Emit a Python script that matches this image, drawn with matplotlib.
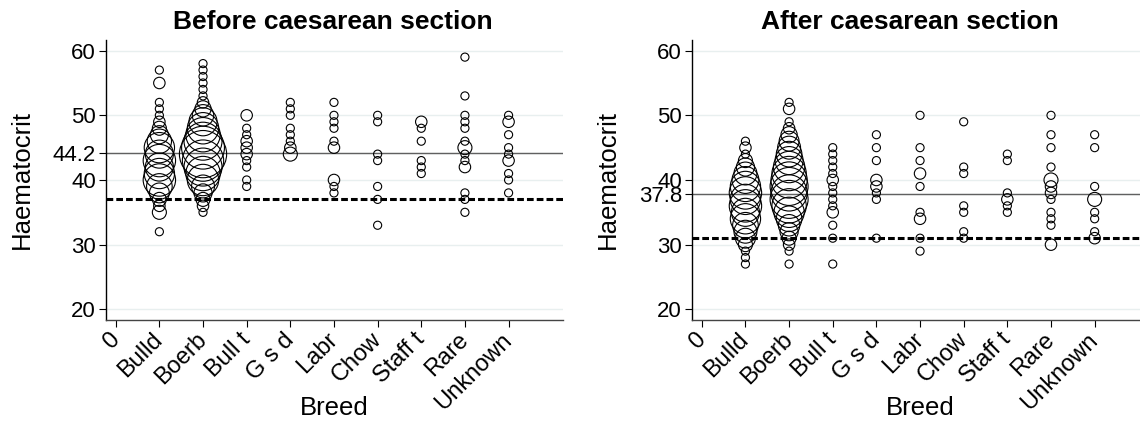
import numpy as np
import matplotlib
matplotlib.use("Agg")
import matplotlib.pyplot as plt

plt.rcParams['font.family'] = ['Liberation Sans', 'DejaVu Sans']

breeds = ["0", "Bulld", "Boerb", "Bull t", "G s d", "Labr", "Chow", "Staff t", "Rare", "Unknown"]

# (haematocrit, number of dogs) per breed, before caesarean section
b_bulld = [(57,1),(55,2),(52,1),(51,1),(50,1),(49,2),(48,3),(47,5),(46,9),(45,14),(44,12),
           (43,16),(42,12),(41,14),(40,16),(39,10),(38,6),(37,3),(36,2),(35,3),(32,1)]
b_boerb = [(58,1),(57,1),(56,1),(55,1),(54,1),(53,1),(52,2),(51,4),(50,7),(49,12),(48,15),(47,18),
           (46,22),(45,28),(44,34),(43,26),(42,22),(41,18),(40,15),(39,8),(38,5),(37,3),(36,2),(35,1)]
b_bullt = [(50,2),(48,1),(47,1),(46,2),(45,2),(44,2),(43,1),(42,1),(40,1),(39,1)]
b_gsd = [(52,1),(51,1),(50,1),(48,1),(47,1),(46,1),(45,2),(44,3)]
b_labr = [(52,1),(50,1),(49,1),(48,1),(46,1),(45,2),(40,2),(39,1),(38,1)]
b_chow = [(50,1),(49,1),(44,1),(43,1),(39,1),(37,1),(33,1)]
b_stafft = [(49,2),(48,1),(46,1),(43,1),(42,1),(41,1)]
b_rare = [(59,1),(53,1),(50,1),(49,1),(48,1),(46,1),(45,3),(44,1),(43,1),(42,2),(38,1),(37,1),(35,1)]
b_unknown = [(50,1),(49,2),(47,1),(45,1),(44,1),(43,2),(41,1),(40,1),(38,1)]

# after caesarean section
a_bulld = [(46,1),(45,2),(44,1),(43,3),(42,5),(41,8),(40,11),(39,14),(38,16),(37,14),(36,16),
           (35,12),(34,14),(33,10),(32,8),(31,6),(30,3),(29,1),(28,1),(27,1)]
a_boerb = [(52,1),(51,2),(49,1),(48,2),(47,4),(46,6),(45,8),(44,10),(43,12),(42,15),(41,18),(40,20),
           (39,22),(38,20),(37,22),(36,18),(35,14),(34,10),(33,7),(32,5),(31,3),(30,2),(29,1),(27,1)]
a_bullt = [(45,1),(44,1),(43,1),(42,1),(41,1),(40,2),(39,1),(38,1),(37,1),(36,1),(35,2),(33,1),(31,1),(27,1)]
a_gsd = [(47,1),(45,1),(43,1),(40,2),(39,2),(38,1),(37,1),(31,1)]
a_labr = [(50,1),(45,1),(43,1),(41,2),(39,1),(35,1),(34,2),(31,1),(29,1)]
a_chow = [(49,1),(42,1),(41,1),(36,1),(35,1),(32,1),(31,1)]
a_stafft = [(44,1),(43,1),(38,1),(37,2),(36,1),(35,1)]
a_rare = [(50,1),(47,1),(45,1),(42,1),(40,3),(39,2),(38,2),(37,1),(35,1),(34,1),(33,1),(30,2)]
a_unknown = [(47,1),(45,1),(39,1),(37,3),(35,1),(34,1),(32,1),(31,2)]

before_groups = [b_bulld, b_boerb, b_bullt, b_gsd, b_labr, b_chow, b_stafft, b_rare, b_unknown]
after_groups = [a_bulld, a_boerb, a_bullt, a_gsd, a_labr, a_chow, a_stafft, a_rare, a_unknown]

titles = ["Before caesarean section", "After caesarean section"]
means = [44.2, 37.8]
cutoffs = [37, 31]


def draw_panel(ax, groups, title, mean, cutoff, title_x):
    for k, g in enumerate(groups):
        g = sorted(g, key=lambda p: -p[1])
        hct = np.array([p[0] for p in g])
        n = np.array([p[1] for p in g])
        ax.scatter(np.full(len(hct), k + 1), hct, s=34 * n, facecolors='none',
                   edgecolors='black', linewidths=0.8, zorder=3)
    ax.axhline(mean, color='#606060', lw=1.0, zorder=2)
    ax.axhline(cutoff, color='black', lw=2.2, dashes=(2.2, 1.0), zorder=2)
    ax.set_xlim(-0.23, 10.24)
    ax.set_ylim(18.35, 61.65)
    ax.yaxis.grid(True, color='#e8efef', lw=1.0, zorder=0)
    ax.set_axisbelow(True)
    yt = [20, 30, 40, 50, 60, mean]
    ax.set_yticks(yt)
    ax.set_yticklabels([str(v) for v in yt])
    ax.set_xticks(range(len(breeds)))
    ax.set_xticklabels(breeds, rotation=45, ha='right', va='center', rotation_mode='anchor')
    ax.tick_params(axis='both', labelsize=16, length=5, width=0.8, pad=2)
    ax.tick_params(axis='x', labelsize=17, pad=7)
    for s in ['top', 'right']:
        ax.spines[s].set_visible(False)
    ax.spines['left'].set_linewidth(1.0)
    ax.spines['bottom'].set_linewidth(1.0)
    ax.spines['bottom'].set_color('#444444')
    ax.set_xlabel("Breed", fontsize=18.5)
    ax.set_ylabel("Haematocrit", fontsize=18.5)
    ax.set_title(title, fontsize=19, fontweight='bold', x=title_x, pad=8)


fig = plt.figure(figsize=(11.4, 4.25), dpi=100)
ax1 = fig.add_axes([0.0927, 0.2471, 0.4009, 0.6588])
ax2 = fig.add_axes([0.6068, 0.2471, 0.4009, 0.6588])

draw_panel(ax1, before_groups, titles[0], means[0], cutoffs[0], 0.496)
draw_panel(ax2, after_groups, titles[1], means[1], cutoffs[1], 0.478)

for ax in (ax1, ax2):
    ax.yaxis.set_label_coords(-0.158, 0.5)
    ax.xaxis.set_label_coords(0.5, -0.27)

fig.savefig("out.png", dpi=100)
